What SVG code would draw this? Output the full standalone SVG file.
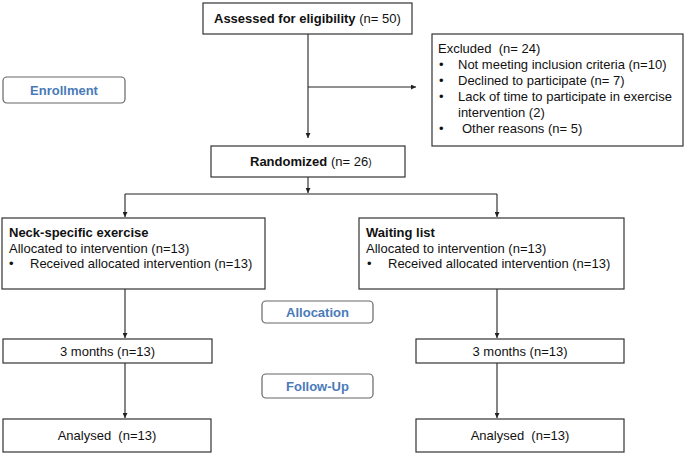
<svg xmlns="http://www.w3.org/2000/svg" width="685" height="454" viewBox="0 0 685 454">
<defs>
<style>
.box{fill:#fff;stroke:#333;stroke-width:1.2}
.lbl{fill:#fff;stroke:#666;stroke-width:1.2}
.t{font-family:"Liberation Sans",Arial,sans-serif;font-size:13px;fill:#111}
.b{font-weight:bold}
.lt{font-family:"Liberation Sans",Arial,sans-serif;font-size:13px;font-weight:bold;fill:#4a7ab8;text-anchor:middle}
.c{text-anchor:middle}
.ln{stroke:#222;stroke-width:1.1;fill:none}
.arr{stroke:#222;stroke-width:1.1;fill:none;marker-end:url(#ah)}
</style>
<marker id="ah" viewBox="0 0 6 6" refX="6" refY="3" markerWidth="5" markerHeight="5" markerUnits="userSpaceOnUse" orient="auto">
<path d="M0,0 L6,3 L0,6 z" fill="#222"/>
</marker>
</defs>
<rect width="685" height="454" fill="#fff"/>

<g id="connectors">
<line class="arr" x1="308" y1="34" x2="308" y2="138"/>
<line class="arr" x1="308" y1="87" x2="416" y2="87"/>
<line class="arr" x1="308" y1="177" x2="308" y2="193"/>
<line class="ln" x1="125" y1="194" x2="497" y2="194"/>
<line class="arr" x1="125" y1="194" x2="125" y2="217"/>
<line class="arr" x1="497" y1="194" x2="497" y2="217"/>
<line class="arr" x1="125" y1="289" x2="125" y2="338"/>
<line class="arr" x1="497" y1="289" x2="497" y2="338"/>
<line class="arr" x1="125" y1="363" x2="125" y2="418"/>
<line class="arr" x1="497" y1="363" x2="497" y2="418"/>
</g>

<g id="assessed">
<rect class="box" x="203" y="3" width="209" height="31"/>
<text class="t" x="214" y="23"><tspan class="b">Assessed for eligibility</tspan> (n= 50)</text>
</g>

<g id="enrollment">
<rect class="lbl" x="3" y="77" width="122" height="26" rx="4"/>
<text class="lt" x="64" y="95">Enrollment</text>
</g>

<g id="excluded">
<rect class="box" x="432" y="34" width="251" height="112"/>
<text class="t" x="438" y="53">Excluded&#160; (n= 24)</text>
<text class="t" x="439" y="69">•</text>
<text class="t" x="458" y="69">Not meeting inclusion criteria (n=10)</text>
<text class="t" x="439" y="85">•</text>
<text class="t" x="458" y="85">Declined to participate (n= 7)</text>
<text class="t" x="439" y="101">•</text>
<text class="t" x="458" y="101">Lack of time to participate in exercise</text>
<text class="t" x="458" y="117">intervention (2)</text>
<text class="t" x="439" y="133">•</text>
<text class="t" x="462" y="133">Other reasons (n= 5)</text>
</g>

<g id="randomized">
<rect class="box" x="211" y="146" width="194" height="31"/>
<text class="t" x="250" y="166"><tspan class="b">Randomized</tspan> (n= 26<tspan font-size="10">)</tspan></text>
</g>

<g id="neck">
<rect class="box" x="2" y="218" width="263" height="71"/>
<text class="t b" x="9" y="237">Neck-specific exercise</text>
<text class="t" x="9" y="253">Allocated to intervention (n=13)</text>
<text class="t" x="9" y="268">•</text>
<text class="t" x="30" y="268">Received allocated intervention (n=13)</text>
</g>

<g id="waiting">
<rect class="box" x="359" y="218" width="265" height="71"/>
<text class="t b" x="366" y="237">Waiting list</text>
<text class="t" x="366" y="253">Allocated to intervention (n=13)</text>
<text class="t" x="367" y="268">•</text>
<text class="t" x="388" y="268">Received allocated intervention (n=13)</text>
</g>

<g id="allocation">
<rect class="lbl" x="262" y="301" width="111" height="22" rx="4"/>
<text class="lt" x="317.5" y="316.5">Allocation</text>
</g>

<g id="followup">
<rect class="lbl" x="262" y="374" width="111" height="24" rx="4"/>
<text class="lt" x="317.5" y="390.5">Follow-Up</text>
</g>

<g id="months-left">
<rect class="box" x="3" y="339" width="209" height="24"/>
<text class="t c" x="107.5" y="356">3 months (n=13)</text>
</g>

<g id="months-right">
<rect class="box" x="416" y="339" width="208" height="24"/>
<text class="t c" x="520" y="356">3 months (n=13)</text>
</g>

<g id="analysed-left">
<rect class="box" x="3" y="419" width="208" height="33"/>
<text class="t c" x="107" y="440">Analysed&#160; (n=13)</text>
</g>

<g id="analysed-right">
<rect class="box" x="416" y="419" width="208" height="33"/>
<text class="t c" x="520" y="440">Analysed&#160; (n=13)</text>
</g>
</svg>
